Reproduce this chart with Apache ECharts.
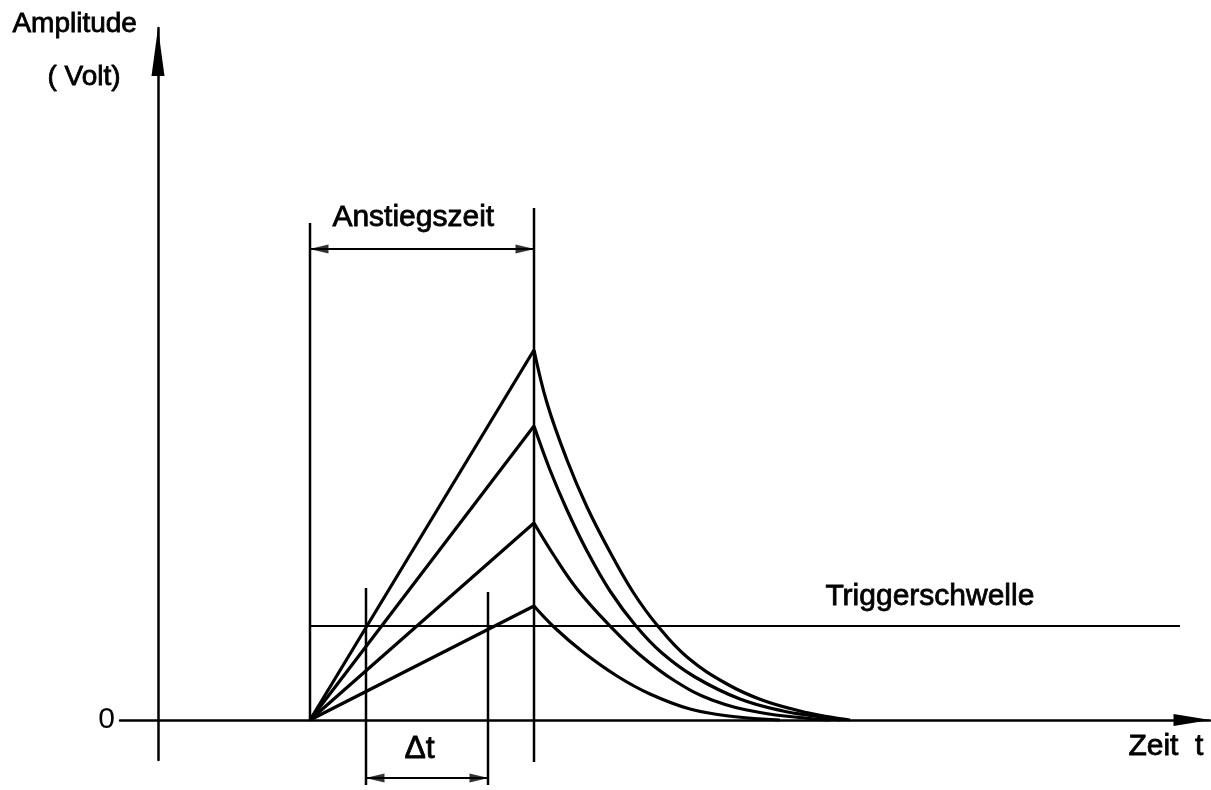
<!DOCTYPE html>
<html>
<head>
<meta charset="utf-8">
<script src="https://cdn.jsdelivr.net/npm/echarts@6/dist/echarts.min.js"></script>
<style>
html,body{margin:0;padding:0;background:#fff;}
#main{width:1211px;height:790px;}
</style>
</head>
<body>
<div id="main"></div>
<script>
// Zeit in willkuerlichen Einheiten, Amplitude in Volt
var riseStart = [15.2, 0];
var peakTime = 37.6;
var peakValues = [37.0, 29.4, 19.7, 11.4];

// Abklingkurven [t, U]
var decay1 = [[37.6,37.0],[38.9,31.7],[40.9,26.0],[42.9,21.3],[45.2,16.8],[47.5,12.8],[49.9,9.5],[52.9,6.3],[56.9,3.6],[60.4,2.0],[64.2,0.9],[66.9,0.35],[69.2,0]];
var decay2 = [[37.6,29.4],[39.2,25.0],[40.9,21.0],[42.9,16.9],[45.2,12.9],[47.8,9.4],[50.4,6.7],[53.7,4.3],[58.2,2.1],[62.5,0.9],[65.9,0.35],[68.2,0]];
var decay3 = [[37.6,19.7],[39.5,16.6],[41.9,13.1],[45.2,9.4],[48.2,6.5],[51.7,3.9],[55.4,2.0],[60.2,0.75],[65.2,0.15],[67.2,0]];
var decay4 = [[37.6,11.4],[39.7,9.2],[42.5,6.8],[45.9,4.4],[49.2,2.6],[53.2,1.1],[57.5,0.35],[62.2,0]];

var threshold = 9.4;
var thresholdRange = [15.2, 102.2];

// Hilfslinien [t, von, bis]
var markerLines = [[15.2, 0, 49.7], [37.6, -4.2, 51.2], [20.8, -6.5, 13.2], [33.0, -6.5, 12.8]];
var riseArrow = [[15.2, 47.1], [37.6, 47.1]];
var deltaArrow = [[20.8, -5.8], [33.0, -5.8]];

var xRange = [-3.8, 105.2];
var yRange = [-4, 69.2];

var chart = echarts.init(document.getElementById('main'));
var black = '#000';
var font = 'Liberation Sans';

var series = [];
peakValues.forEach(function (p) {
    series.push({type:'line', data:[riseStart, [peakTime, p]], showSymbol:false, clip:false,
        lineStyle:{color:black, width:3.2}});
});
[decay1, decay2, decay3, decay4].forEach(function (d) {
    series.push({type:'line', data:d, smooth:0.4, showSymbol:false, clip:false,
        lineStyle:{color:black, width:3.2}});
});
series.push({type:'line', data:[[thresholdRange[0], threshold], [thresholdRange[1], threshold]],
    showSymbol:false, lineStyle:{color:black, width:2}});
markerLines.forEach(function (m) {
    series.push({type:'line', data:[[m[0], m[1]], [m[0], m[2]]], showSymbol:false, clip:false,
        lineStyle:{color:black, width:2.5}});
});
// Masspfeile: Linie + Pfeilspitzen
var heads = [];
[riseArrow, deltaArrow].forEach(function (a) {
    series.push({type:'line', data:a, showSymbol:false, clip:false, lineStyle:{color:black, width:2}});
    heads.push({value:a[0], symbolRotate:90, symbolOffset:[9, 0]});
    heads.push({value:a[1], symbolRotate:-90, symbolOffset:[-9, 0]});
});
series.push({type:'scatter', data:heads, symbol:'triangle', symbolSize:[9,19], clip:false,
    itemStyle:{color:black}});

var option = {
    animation:false,
    backgroundColor:'#fff',
    grid:{left:120, right:1, top:28, bottom:30},
    xAxis:{type:'value', min:xRange[0], max:xRange[1],
        axisLine:{onZero:true, lineStyle:{color:black, width:2.5}, symbol:['none','triangle'], symbolSize:[12,37], symbolOffset:[0,-18]},
        axisTick:{show:false}, axisLabel:{show:false}, splitLine:{show:false}},
    yAxis:{type:'value', min:yRange[0], max:yRange[1], interval:4,
        axisLine:{onZero:true, lineStyle:{color:black, width:2.5}, symbol:['none','triangle'], symbolSize:[13,48], symbolOffset:[0,-24]},
        axisTick:{show:false}, splitLine:{show:false},
        axisLabel:{margin:5, color:black, fontFamily:font, fontSize:30,
            formatter:function (v) { return v === 0 ? '0' : ''; }}},
    graphic:[
        {type:'text', left:12, top:10, style:{text:'Amplitude', font:'28px ' + font, fill:black, stroke:black, lineWidth:0.8}},
        {type:'text', left:47, top:63, style:{text:'( Volt)', font:'28px ' + font, fill:black, stroke:black, lineWidth:0.8}},
        {type:'text', left:332, top:202, style:{text:'Anstiegszeit', font:'30px ' + font, fill:black, stroke:black, lineWidth:0.8}},
        {type:'text', left:825, top:581, style:{text:'Triggerschwelle', font:'30px ' + font, fill:black, stroke:black, lineWidth:0.8}},
        {type:'text', left:404, top:733, style:{text:'\u0394t', font:'32px ' + font, fill:black, stroke:black, lineWidth:0.8}},
        {type:'text', left:1128, top:731, style:{text:'Zeit  t', font:'30px ' + font, fill:black, stroke:black, lineWidth:0.8}}
    ],
    series:series
};
chart.setOption(option);
</script>
</body>
</html>
